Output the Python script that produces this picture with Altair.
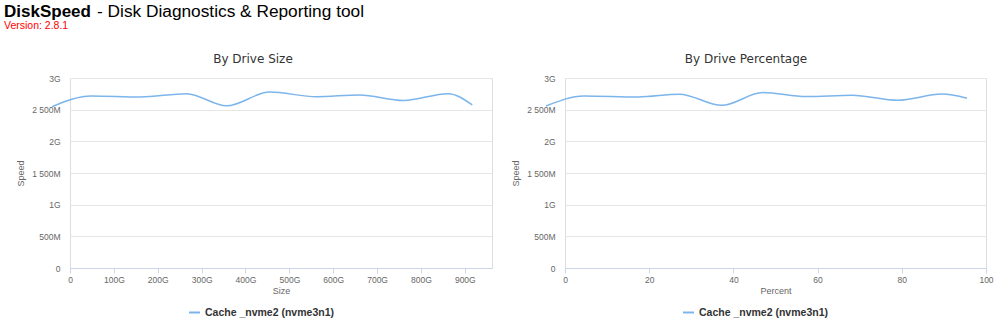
import altair as alt
import pandas as pd

SERIES = "Cache _nvme2 (nvme3n1)"
COLOR = "#7cb5ec"

# By Drive Size (GB, MB/s)
size_gb = [-41, 49, 160, 266, 357, 455, 562, 660, 760, 862, 917]
size_speed = [2547, 2716, 2700, 2752, 2560, 2778, 2705, 2733, 2645, 2752, 2574]

# By Drive Percentage
pct = [-4.5, 4.5, 17.4, 27.2, 37.2, 47.0, 57.3, 68.2, 79.0, 89.5, 95.5]
pct_speed = [2557, 2716, 2700, 2745, 2568, 2770, 2706, 2729, 2649, 2746, 2681]

y_ticks = [0, 500, 1000, 1500, 2000, 2500, 3000]
y_tick_labels = ["0", "500M", "1G", "1 500M", "2G", "2 500M", "3G"]
x_size_ticks = [0, 100, 200, 300, 400, 500, 600, 700, 800, 900]
x_size_labels = ["0", "100G", "200G", "300G", "400G", "500G", "600G", "700G", "800G", "900G"]
x_pct_ticks = [0, 20, 40, 60, 80, 100]


def label_expr(vals, labels):
    expr = "''"
    for v, l in zip(reversed(vals), reversed(labels)):
        expr = f"datum.value == {v} ? '{l}' : ({expr})"
    return expr


W, H = 422, 190
AX_FONT = "Liberation Sans"
TITLE_FONT = "DejaVu Sans"

y_axis = alt.Axis(
    values=y_ticks, labelExpr=label_expr(y_ticks, y_tick_labels), title="Speed",
    domain=False, ticks=False, grid=True, gridColor="#e6e6e6",
    labelColor="#666666", labelFont=AX_FONT, labelFontSize=8.5, labelPadding=10,
    titleColor="#666666", titleFont=AX_FONT, titleFontSize=9, titleFontWeight="normal",
    titlePadding=6,
)


def x_axis(vals, labels, title):
    kw = dict(values=vals, title=title, grid=False, domainColor="#ccd6eb", tickColor="#ccd6eb",
              tickSize=5, labelColor="#666666", labelFont=AX_FONT, labelFontSize=8.5,
              labelPadding=2, labelFlush=False, titleColor="#666666", titleFont=AX_FONT,
              titleFontSize=9, titleFontWeight="normal", titlePadding=3)
    if labels is not None:
        kw["labelExpr"] = label_expr(vals, labels)
    return alt.Axis(**kw)


def panel(df, xfield, xdomain, xaxis, title, title_x, legend_x):
    line = alt.Chart(df).mark_line(interpolate="monotone", strokeWidth=1.5, clip=False).encode(
        x=alt.X(f"{xfield}:Q", scale=alt.Scale(domain=xdomain, nice=False, zero=False), axis=xaxis),
        y=alt.Y("speed:Q", scale=alt.Scale(domain=[0, 3000], nice=False), axis=y_axis),
        color=alt.Color("series:N", scale=alt.Scale(domain=[SERIES], range=[COLOR]),
                        legend=alt.Legend(title=None, orient="none", legendX=legend_x, legendY=228,
                                          symbolType="stroke", symbolSize=121, symbolStrokeWidth=2,
                                          labelFont=AX_FONT, labelFontSize=10.5, labelFontWeight="bold",
                                          labelColor="#333333", labelOffset=4)),
    )
    ttl = alt.Chart(pd.DataFrame({"t": [title]})).mark_text(
        align="center", baseline="alphabetic", font=TITLE_FONT, fontSize=12,
        color="#333333").encode(x=alt.value(title_x), y=alt.value(-15), text="t:N")
    return line, ttl


df_size = pd.DataFrame({"size": size_gb, "speed": size_speed, "series": SERIES})
df_pct = pd.DataFrame({"pct": pct, "speed": pct_speed, "series": SERIES})

left_line, left_title = panel(df_size, "size", [0, 962], x_axis(x_size_ticks, x_size_labels, "Size"),
                              "By Drive Size", 183, 118)
right_line, right_title = panel(df_pct, "pct", [0, 100], x_axis(x_pct_ticks, None, "Percent"),
                                "By Drive Percentage", 181, 117)

hdr = pd.DataFrame({"a": ["DiskSpeed"], "b": ["- Disk Diagnostics & Reporting tool"], "v": ["Version: 2.8.1"]})
h1 = alt.Chart(hdr).mark_text(align="left", baseline="alphabetic", font="Liberation Sans", fontSize=17,
                              fontWeight="bold", color="#000000").encode(
    x=alt.value(-66), y=alt.value(-61), text="a:N")
h2 = alt.Chart(hdr).mark_text(align="left", baseline="alphabetic", font="Liberation Sans", fontSize=17.3,
                              color="#000000").encode(
    x=alt.value(27), y=alt.value(-61), text="b:N")
h3 = alt.Chart(hdr).mark_text(align="left", baseline="alphabetic", font="Liberation Sans", fontSize=10.5,
                              color="#ff0000").encode(
    x=alt.value(-66), y=alt.value(-49), text="v:N")

left_layer = alt.layer(left_line, left_title, h1, h2, h3).properties(width=W, height=H)
right_layer = alt.layer(right_line, right_title).properties(width=W - 1, height=H)

chart = alt.hconcat(left_layer, right_layer, spacing=18).resolve_scale(
    x="independent", y="independent", color="independent"
).resolve_legend(color="independent").properties(
    padding={"left": 3, "top": 2, "right": 0, "bottom": 0}
).configure_view(stroke=None).configure(background="white")

chart.save("out.html", embed_options={"renderer": "svg", "actions": False})
